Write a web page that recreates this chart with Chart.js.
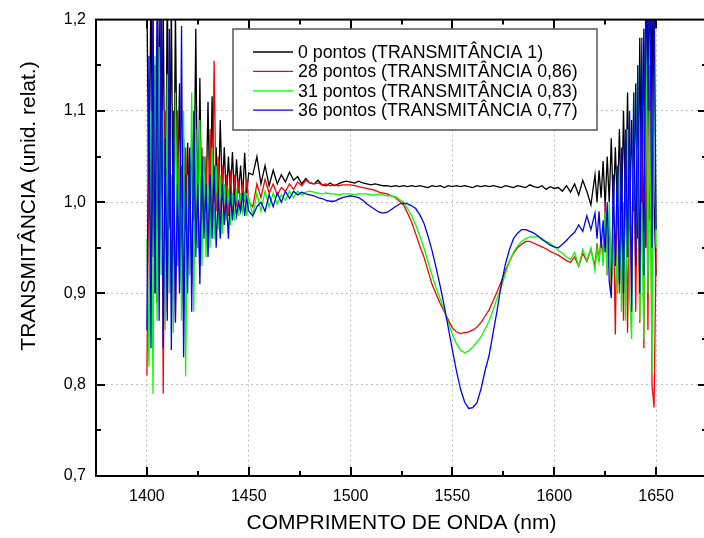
<!DOCTYPE html>
<html>
<head>
<meta charset="utf-8">
<script src="https://cdn.jsdelivr.net/npm/chart.js"></script>
<style>
  html, body { margin: 0; padding: 0; background: #fff; overflow: hidden; }
  #wrap { width: 712px; height: 538px; }
</style>
</head>
<body>
<div id="wrap"><canvas id="chart" width="712" height="538"></canvas></div>
<script>
// Transmitância x comprimento de onda - 4 amostras
// passo de 1 nm nas bordas ruidosas, 2 nm no meio

const wavelengths = [
  1400, 1401, 1402, 1403, 1404, 1405, 1406, 1407, 1408, 1409,
  1410, 1411, 1412, 1413, 1414, 1415, 1416, 1417, 1418, 1419,
  1420, 1421, 1422, 1423, 1424, 1425, 1426, 1427, 1428, 1429,
  1430, 1431, 1432, 1433, 1434, 1435, 1436, 1437, 1438, 1439,
  1440, 1441, 1442, 1443, 1444, 1445, 1446, 1447, 1448, 1449,
  1450,
  1452, 1454, 1456, 1458,
  1460, 1462, 1464, 1466, 1468, 1470, 1472, 1474, 1476, 1478,
  1480, 1482, 1484, 1486, 1488, 1490, 1492, 1494, 1496, 1498,
  1500, 1502, 1504, 1506, 1508, 1510, 1512, 1514, 1516, 1518,
  1520, 1522, 1524, 1526, 1528, 1530, 1532, 1534, 1536, 1538,
  1540, 1542, 1544, 1546, 1548, 1550, 1552, 1554, 1556, 1558,
  1560, 1562, 1564, 1566, 1568, 1570, 1572, 1574, 1576, 1578,
  1580, 1582, 1584, 1586, 1588, 1590, 1592, 1594, 1596, 1598,
  1600, 1602, 1604, 1606, 1608, 1610, 1612, 1614, 1616, 1618,
  1620, 1621, 1622, 1623, 1624, 1625, 1626, 1627, 1628, 1629,
  1630, 1631, 1632, 1633, 1634, 1635, 1636, 1637, 1638, 1639,
  1640, 1641, 1642, 1643, 1644, 1645, 1646, 1647, 1648, 1649,
  1650
];

const seriesLabels = [
  '0 pontos (TRANSMITÂNCIA 1)',
  '28 pontos (TRANSMITÂNCIA 0,86)',
  '31 pontos (TRANSMITÂNCIA 0,83)',
  '36 pontos (TRANSMITÂNCIA 0,77)'
];
const seriesColors = ['#000000', '#ff0000', '#00ff00', '#0000ff'];

const pontos0 = [
  1.23, 0.98, 1.25, 0.94, 1.15, 0.89, 1.20, 0.96, 1.22, 0.93,
  1.24, 0.97, 1.22, 0.92, 1.21, 0.99, 1.13, 0.91, 1.07, 0.97,
  1.065, 0.96, 1.07, 0.98, 1.19, 0.95, 1.136, 0.966, 1.05, 0.99,
  1.11, 0.98, 1.116, 1.0, 1.06, 0.99, 1.09, 1.01, 1.06, 1.0,
  1.05, 1.01, 1.055, 1.0, 1.047, 1.01, 1.04, 1.005, 1.054, 1.01,
  1.032,
  1.03, 1.05, 1.02, 1.04,
  1.018, 1.035, 1.02, 1.03, 1.022, 1.033, 1.024, 1.028, 1.02, 1.026,
  1.021, 1.02, 1.024, 1.019, 1.018, 1.021, 1.018, 1.02, 1.022, 1.023,
  1.022, 1.021, 1.023, 1.021, 1.02, 1.019, 1.02, 1.019, 1.018, 1.018,
  1.017, 1.018, 1.017, 1.018, 1.017, 1.018, 1.017, 1.018, 1.017, 1.016,
  1.018, 1.017, 1.018, 1.016, 1.018, 1.017, 1.018, 1.017, 1.018, 1.017,
  1.016, 1.018, 1.017, 1.018, 1.017, 1.018, 1.017, 1.016, 1.018, 1.017,
  1.016, 1.018, 1.017, 1.016, 1.019, 1.017, 1.016, 1.018, 1.014, 1.017,
  1.015, 1.016, 1.012, 1.018, 1.011, 1.02, 1.008, 1.024, 1.012, 0.997,
  1.03, 1.0, 1.035, 1.005, 1.045, 0.995, 1.05, 1.0, 1.07, 0.99,
  1.06, 0.995, 1.08, 0.98, 1.10, 0.99, 1.12, 0.97, 1.09, 0.99,
  1.13, 0.96, 1.18, 0.97, 1.19, 0.95, 1.22, 0.98, 1.22, 1.0,
  0.92
];

const pontos28 = [
  0.81, 1.05, 0.93, 1.21, 0.90, 1.18, 0.95, 1.22, 0.79, 1.10,
  0.88, 1.12, 0.90, 1.05, 0.87, 1.10, 0.93, 1.04, 0.88, 1.06,
  0.94, 1.03, 0.91, 1.07, 0.96, 1.02, 0.93, 1.06, 0.97, 1.05,
  0.95, 1.08, 0.97, 1.155, 0.99, 1.05, 0.98, 1.04, 0.975, 1.03,
  0.985, 1.035, 0.99, 1.03, 0.995, 1.025, 0.99, 1.02, 1.0, 1.025,
  1.0,
  0.995, 1.02, 1.005, 1.025,
  1.01, 1.02, 1.008, 1.016, 1.012, 1.02, 1.014, 1.022, 1.018, 1.024,
  1.021, 1.02, 1.021, 1.019, 1.02, 1.018, 1.019, 1.018, 1.019, 1.019,
  1.019, 1.018, 1.017, 1.016, 1.015, 1.014, 1.013, 1.011, 1.010, 1.009,
  1.007, 1.005, 1.001, 0.997, 0.988, 0.978, 0.965, 0.952, 0.94, 0.925,
  0.91, 0.899, 0.889, 0.88, 0.871, 0.862, 0.858, 0.856, 0.857, 0.858,
  0.86, 0.863, 0.868, 0.875, 0.882, 0.892, 0.902, 0.913, 0.925, 0.935,
  0.944, 0.95, 0.954, 0.957, 0.957, 0.955, 0.953, 0.951, 0.949, 0.946,
  0.944, 0.942, 0.939, 0.936, 0.934, 0.94, 0.93, 0.944, 0.935, 0.948,
  0.93, 0.955, 0.935, 0.96, 0.94, 1.0, 0.92, 0.98, 0.9, 0.99,
  0.855, 1.02, 0.9, 0.99, 0.87, 1.05, 0.857, 1.02, 0.9, 1.1,
  0.88, 1.05, 0.868, 1.12, 0.84, 1.2, 0.86, 1.15, 0.8, 0.775,
  0.95
];

const pontos31 = [
  0.96, 0.82, 1.10, 0.79, 1.16, 0.87, 1.17, 0.92, 1.10, 0.86,
  1.14, 0.90, 1.03, 0.857, 1.12, 0.93, 1.05, 0.87, 1.10, 0.809,
  1.03, 0.92, 1.12, 0.88, 1.08, 0.95, 1.09, 0.93, 1.05, 0.94,
  1.02, 0.95, 1.06, 0.96, 1.04, 0.97, 1.03, 0.965, 1.02, 0.98,
  1.015, 0.975, 1.01, 0.98, 1.015, 0.985, 1.01, 0.99, 1.012, 0.985,
  1.005,
  0.985, 1.01, 0.99, 1.012,
  0.995, 1.01, 0.998, 1.008, 1.002, 1.012, 1.005, 1.012, 1.008, 1.011,
  1.012, 1.011, 1.01, 1.009, 1.01, 1.009, 1.009, 1.008, 1.009, 1.009,
  1.009, 1.008, 1.009, 1.009, 1.009, 1.008, 1.008, 1.009, 1.008, 1.007,
  1.007, 1.006, 1.003, 1.0, 0.993, 0.985, 0.975, 0.963, 0.95, 0.935,
  0.92, 0.906, 0.894, 0.882, 0.868, 0.855, 0.845, 0.838, 0.835, 0.837,
  0.841, 0.847, 0.852, 0.861, 0.87, 0.882, 0.895, 0.907, 0.922, 0.935,
  0.945, 0.952, 0.957, 0.96, 0.962, 0.962, 0.962, 0.96, 0.957, 0.955,
  0.951, 0.947, 0.944, 0.94, 0.937, 0.945, 0.93, 0.948, 0.936, 0.95,
  0.925, 0.95, 0.935, 0.96, 0.93, 0.99, 0.92, 1.0, 0.91, 0.97,
  0.96, 0.9, 1.04, 0.88, 1.0, 0.87, 1.08, 0.9, 0.85, 1.12,
  0.95, 1.15, 0.87, 1.0, 0.85, 1.22, 0.9, 1.1, 0.812, 1.2,
  0.95
];

const pontos36 = [
  0.86, 1.16, 0.84, 1.22, 0.90, 1.23, 0.87, 1.25, 0.84, 1.07,
  0.87, 1.19, 0.838, 1.10, 0.868, 1.02, 0.90, 1.193, 0.83, 1.03,
  0.90, 1.06, 0.88, 1.10, 0.94, 1.02, 0.91, 1.05, 0.96, 1.02,
  0.94, 1.03, 0.96, 1.04, 0.95, 1.01, 0.96, 1.02, 0.975, 1.005,
  0.96, 1.01, 0.98, 1.008, 0.985, 1.0, 0.99, 1.01, 0.985, 1.005,
  0.99,
  0.985, 0.995, 1.0, 0.99,
  1.008, 0.995, 1.01, 1.0, 1.012, 1.004, 1.012, 1.008, 1.011, 1.009,
  1.008, 1.007, 1.005, 1.004, 1.002, 1.001, 1.001, 1.003, 1.005, 1.006,
  1.007, 1.006, 1.005, 1.002, 0.998, 0.995, 0.992, 0.989, 0.988, 0.989,
  0.992, 0.995, 0.998, 0.999, 0.998, 0.996, 0.993, 0.986, 0.977, 0.963,
  0.947, 0.928, 0.908, 0.886, 0.862, 0.838, 0.815, 0.795, 0.781, 0.774,
  0.775, 0.78, 0.795, 0.815, 0.832, 0.857, 0.882, 0.91, 0.932, 0.948,
  0.96, 0.966, 0.97, 0.97, 0.968, 0.966, 0.963, 0.959, 0.956, 0.953,
  0.951, 0.95, 0.954, 0.958, 0.963, 0.967, 0.975, 0.968, 0.985, 0.97,
  0.988, 0.96, 0.99, 0.95, 0.98, 0.945, 1.0, 0.913, 0.895, 1.03,
  0.93, 1.04, 0.91, 1.06, 0.9, 1.08, 0.94, 1.1, 0.88, 1.12,
  0.93, 1.15, 0.9, 1.18, 0.92, 1.25, 1.1, 1.25, 0.95, 1.25,
  0.97
];

const xTicks = [1400, 1450, 1500, 1550, 1600, 1650];
const yTicks = [0.7, 0.8, 0.9, 1.0, 1.1, 1.2];
const xTitle = 'COMPRIMENTO DE ONDA (nm)';
const yTitle = 'TRANSMITÂNCIA (unid. relat.)';

Chart.defaults.font.family = '"Liberation Sans", Arial, sans-serif';
Chart.defaults.color = '#000';

const allSeries = [pontos0, pontos28, pontos31, pontos36];

// moldura, tiques internos (maiores e menores), legenda e título do eixo y
const framePlugin = {
  id: 'frame',
  afterDraw(chart) {
    const { ctx, chartArea: a, scales: { x, y } } = chart;
    ctx.save();
    ctx.strokeStyle = '#000';
    ctx.lineWidth = 2;
    ctx.strokeRect(a.left, a.top, a.right - a.left, a.bottom - a.top);

    ctx.beginPath();
    for (let v = 1400; v <= 1650; v += 25) {
      const px = Math.round(x.getPixelForValue(v));
      const len = v % 50 === 0 ? 9 : 5;
      ctx.moveTo(px, a.bottom); ctx.lineTo(px, a.bottom - len);
      ctx.moveTo(px, a.top); ctx.lineTo(px, a.top + len);
    }
    for (let k = 1; k < 10; k++) {
      const py = Math.round(y.getPixelForValue(0.7 + k * 0.05));
      const len = k % 2 === 0 ? 9 : 5;
      ctx.moveTo(a.left, py); ctx.lineTo(a.left + len, py);
      ctx.moveTo(a.right, py); ctx.lineTo(a.right - len, py);
    }
    ctx.stroke();

    // legenda
    ctx.fillStyle = '#fff';
    ctx.fillRect(233, 29, 364, 101);
    ctx.strokeStyle = '#555';
    ctx.lineWidth = 1.5;
    ctx.strokeRect(233, 29, 364, 101);
    ctx.font = '17.8px "Liberation Sans", Arial, sans-serif';
    ctx.textBaseline = 'middle';
    ctx.textAlign = 'left';
    seriesLabels.forEach((lbl, i) => {
      const ly = 52 + i * 19.4;
      ctx.strokeStyle = seriesColors[i];
      ctx.lineWidth = 1.3;
      ctx.beginPath();
      ctx.moveTo(253, ly); ctx.lineTo(293, ly);
      ctx.stroke();
      ctx.fillStyle = '#000';
      ctx.fillText(lbl, 298, ly + 1);
    });

    // título do eixo y
    ctx.translate(29, 206);
    ctx.rotate(-Math.PI / 2);
    ctx.textAlign = 'center';
    ctx.font = '21px "Liberation Sans", Arial, sans-serif';
    ctx.fillText(yTitle, 0, 0);
    ctx.restore();
  }
};

new Chart(document.getElementById('chart'), {
  type: 'line',
  data: {
    datasets: allSeries.map((vals, i) => ({
      label: seriesLabels[i],
      data: wavelengths.map((w, j) => ({ x: w, y: vals[j] })),
      borderColor: seriesColors[i],
      borderWidth: 1.3,
      pointRadius: 0,
      tension: 0,
      fill: false,
      order: 4 - i
    }))
  },
  options: {
    responsive: false,
    animation: false,
    layout: { padding: { top: 18, right: 5, left: 0, bottom: 0 } },
    plugins: { legend: { display: false }, tooltip: { enabled: false } },
    scales: {
      x: {
        type: 'linear',
        min: 1375,
        max: 1675,
        afterFit: s => { s.height = 62; },
        afterBuildTicks: s => { s.ticks = xTicks.map(v => ({ value: v })); },
        ticks: { padding: 11, font: { size: 16 }, maxRotation: 0, autoSkip: false, callback: v => String(v) },
        grid: { color: '#c0c0c0', lineWidth: 1, drawTicks: false },
        border: { display: false, dash: [2, 3] },
        title: { display: true, text: xTitle, font: { size: 21 }, padding: { top: 0, bottom: 2 } }
      },
      y: {
        min: 0.7,
        max: 1.2,
        afterFit: s => { s.width = 96; },
        afterBuildTicks: s => { s.ticks = yTicks.map(v => ({ value: v })); },
        ticks: { padding: 10, font: { size: 16 }, callback: v => v.toFixed(1).replace('.', ',') },
        grid: { color: '#c0c0c0', lineWidth: 1, drawTicks: false },
        border: { display: false, dash: [2, 3] }
      }
    }
  },
  plugins: [framePlugin]
});
</script>
</body>
</html>
